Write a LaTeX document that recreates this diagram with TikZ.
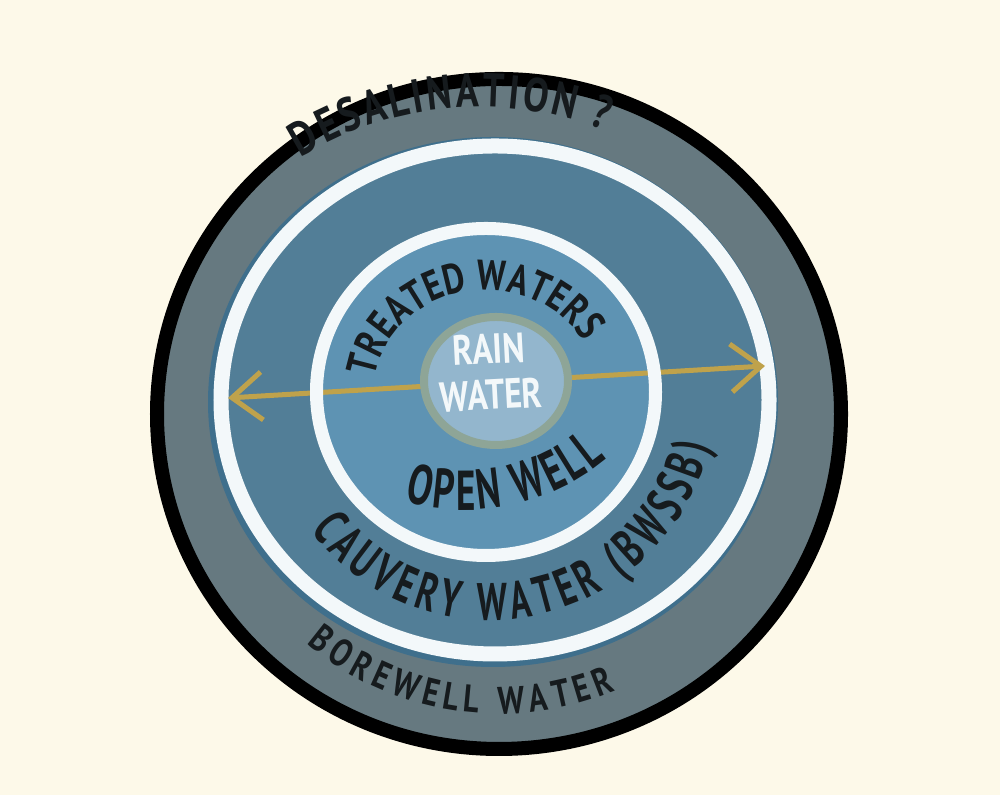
\documentclass[tikz,border=0pt]{standalone}
\usepackage{fontspec}
\newfontfamily\handfont{PT Sans}[FakeStretch=0.8]
\newfontfamily\handnarrow{PT Sans}[FakeStretch=0.66]
\usetikzlibrary{arrows.meta,decorations.text}

\definecolor{paper}{HTML}{FDF9E9}
\definecolor{borewell}{HTML}{667980}
\definecolor{cauvery}{HTML}{527E97}
\definecolor{cauveryedge}{HTML}{3F6F8C}
\definecolor{openwell}{HTML}{5E93B3}
\definecolor{rainfill}{HTML}{93B6CD}
\definecolor{rainedge}{HTML}{8EA597}
\definecolor{gap}{HTML}{F3F8FA}
\definecolor{gold}{HTML}{BFA24B}
\definecolor{ink}{HTML}{161B1E}

\begin{document}
\begin{tikzpicture}[
    x=0.01cm, y=0.01cm,
    rim/.style={draw=black, line width=0.14cm, fill=borewell},
    gapring/.style={draw=gap, line width=#1},
    spread/.style={draw=gold, line width=0.05cm,
        {Straight Barb[length=0.3cm, width=0.48cm]}-{Straight Barb[length=0.3cm, width=0.48cm]}},
    curvetext/.style={decorate, decoration={text along path, text align=fit to path, text color=ink}}
]
\useasboundingbox (0,0) rectangle (1000,795);
\fill[paper] (0,0) rectangle (1000,795);

% Outer band
\draw[rim] (499,381) ellipse[x radius=342, y radius=335];

% Cauvery band
\fill[cauveryedge] (493,393) ellipse[x radius=285, y radius=265];
\fill[cauvery] (495,395) ellipse[x radius=274, y radius=254];
\draw[gapring=0.15cm] (495,395) ellipse[x radius=274, y radius=254];

% Open well
\fill[openwell] (486,403) ellipse[x radius=170, y radius=164];

% Arrow
\coordinate (west tip) at (228,397);
\coordinate (east tip) at (765,429);
\draw[spread] (west tip) -- (east tip);

\draw[gapring=0.13cm] (486,403) ellipse[x radius=169.5, y radius=163.5];

% Rain water
\draw[draw=rainedge, line width=0.08cm, fill=rainfill] (496,414) ellipse[x radius=72, y radius=64];
\node[text=gap, align=center, rotate=3, font=\handfont\bfseries\fontsize{12}{13}\selectfont] (rain label) at (490,423) {RAIN\\WATER};

% Labels
\path[curvetext, decoration={text={|\handfont\bfseries\fontsize{13.5}{16}\selectfont|DESALINATION ?}}]
    (480,393) ++(124:320 and 295) arc[start angle=124, end angle=67, x radius=320, y radius=295];
\path[curvetext, decoration={text={|\handfont\bfseries\fontsize{12}{14}\selectfont|TREATED WATERS}}]
    (486,403) ++(172:112 and 102) arc[start angle=172, end angle=31, x radius=112, y radius=102];
\path[curvetext, decoration={text={|\handnarrow\bfseries\fontsize{16}{18}\selectfont|OPEN WELL}}]
    (465,505) ++(254:220) arc[start angle=254, end angle=310, radius=220];
\path[curvetext, decoration={text={|\handnarrow\bfseries\fontsize{15}{17}\selectfont|CAUVERY WATER (BWSSB)}}]
    (490,400) ++(217:225) arc[start angle=217, end angle=347, radius=225];
\path[curvetext, decoration={text={|\handfont\bfseries\fontsize{11}{13}\selectfont|BOREWELL WATER}}]
    (499,381) ++(230:300) arc[start angle=230, end angle=293, radius=300];

\end{tikzpicture}
\end{document}
